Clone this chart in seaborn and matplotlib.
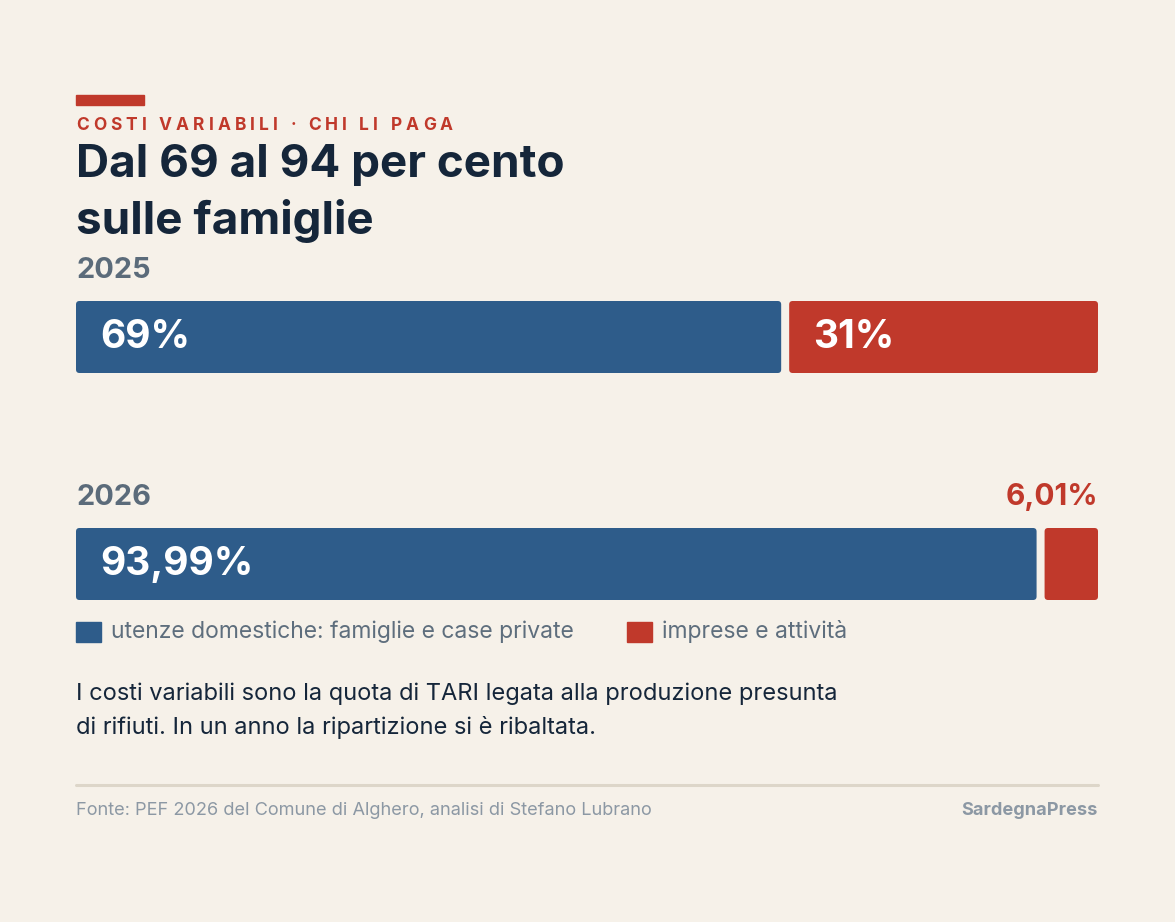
import numpy as np
import pandas as pd
import matplotlib
matplotlib.use('Agg')
import matplotlib.pyplot as plt
from matplotlib.patches import FancyBboxPatch, Rectangle
import seaborn as sns

# data
years = ['2025', '2026']
domestiche = [69.0, 93.99]
imprese = [31.0, 6.01]
labelsDom = ['69%', '93,99%']
labelsImp = ['31%', '6,01%']
legendLabels = ['utenze domestiche: famiglie e case private', 'imprese e attività']

# style
W, H = 1175, 922
BG = '#f6f1e9'
BLUE = '#2e5c8a'
RED = '#c0392b'
DARK = '#15263a'
GREY = '#5b6b7a'
LGREY = '#8c98a4'
FONT = 'Inter'

sns.set_theme(style='white')
plt.rcParams['font.family'] = [FONT, 'DejaVu Sans']

fig = plt.figure(figsize=(W / 100, H / 100), dpi=100)
fig.patch.set_facecolor(BG)

def fx(px):
	return px / W

def fy(py):
	return 1 - py / H

def txt(x, y, s, **kw):
	return fig.text(fx(x), fy(y), s, **kw)

# plot area: bars span x 76..1098, bar tops 301 (2025) and 528 (2026)
left, right = 76, 1098
barTop, barBottom = 301, 600
rowStep = 227.0
barH = 72.0 / rowStep
ax = fig.add_axes([fx(left), fy(barBottom), fx(right - left), (barBottom - barTop) / H])
ax.set_facecolor('none')

df = pd.DataFrame({'year': years, 'domestiche': domestiche, 'imprese': imprese})
sns.barplot(data=df, x='domestiche', y='year', color=BLUE, width=barH,
	saturation=1, orient='h', ax=ax)
gapPx = 8
gap = gapPx / (right - left) * 100
ax.barh(np.arange(len(years)), df['imprese'] - gap, left=df['domestiche'] + gap,
	height=barH, color=RED)
ax.set_xlim(0, 100)
ax.set_ylim(1 + barH / 2, -barH / 2)
ax.axis('off')

# round the bar corners
pxPerX = (right - left) / 100
pxPerY = rowStep
radius = 3.5
for p in list(ax.patches):
	x0, y0 = p.get_x(), p.get_y()
	w, h = p.get_width(), p.get_height()
	rp = FancyBboxPatch((x0, y0), w, h,
		boxstyle='round,pad=0,rounding_size=%f' % (radius / pxPerX),
		mutation_aspect=pxPerX / pxPerY,
		facecolor=p.get_facecolor(), edgecolor='none', linewidth=0)
	p.remove()
	ax.add_patch(rp)

# value labels
for i in range(len(years)):
	ax.text(24 / pxPerX, i, labelsDom[i], color='white', fontsize=28,
		fontweight='bold', va='center', ha='left')
ax.text(domestiche[0] + gap + 24 / pxPerX, 0, labelsImp[0], color='white',
	fontsize=28, fontweight='bold', va='center', ha='left')
txt(1098, 505, labelsImp[1], color=RED, fontsize=21.5, fontweight='bold',
	ha='right', va='baseline')

# year labels
txt(77, 278, years[0], color=GREY, fontsize=20.8, fontweight='bold', va='baseline')
txt(77, 505, years[1], color=GREY, fontsize=20.8, fontweight='bold', va='baseline')

# accent bar
fig.patches.append(Rectangle((fx(76), fy(105)), fx(68), 10 / H,
	transform=fig.transFigure, color=RED))

# kicker with letter spacing
kicker = 'COSTI VARIABILI · CHI LI PAGA'
renderer = fig.canvas.get_renderer()
kkw = dict(color=RED, fontsize=12.5, fontweight='bold', va='baseline')

def textWidth(s):
	t = txt(0, 0, s + 'X', **kkw)
	w1 = t.get_window_extent(renderer).width
	t.remove()
	t = txt(0, 0, 'X', **kkw)
	w2 = t.get_window_extent(renderer).width
	t.remove()
	return w1 - w2

natural = textWidth(kicker)
spacing = (453 - 76 - natural) / (len(kicker) - 1)
for i, ch in enumerate(kicker):
	if ch == ' ':
		continue
	txt(76 + textWidth(kicker[:i]) + i * spacing, 130, ch, **kkw)

# title
txt(76, 177, 'Dal 69 al 94 per cento', color=DARK, fontsize=33,
	fontweight='bold', va='baseline')
txt(76, 234, 'sulle famiglie', color=DARK, fontsize=33,
	fontweight='bold', va='baseline')

# legend
for xs, col, lab in [(76, BLUE, legendLabels[0]), (627, RED, legendLabels[1])]:
	fig.patches.append(Rectangle((fx(xs), fy(642)), fx(25), 20 / H,
		transform=fig.transFigure, color=col))
	txt(xs + 35, 638, lab, color='#5e6e7d', fontsize=16.5, va='baseline')

# body text
txt(76, 700, 'I costi variabili sono la quota di TARI legata alla produzione presunta',
	color=DARK, fontsize=17, va='baseline')
txt(76, 734, 'di rifiuti. In un anno la ripartizione si è ribaltata.',
	color=DARK, fontsize=17, va='baseline')

# rule and footer
fig.add_artist(plt.Line2D([fx(76), fx(1098)], [fy(784.5), fy(784.5)],
	transform=fig.transFigure, color='#ddd6c9', linewidth=2.2))
txt(76, 815, 'Fonte: PEF 2026 del Comune di Alghero, analisi di Stefano Lubrano',
	color=LGREY, fontsize=13.1, va='baseline')
txt(1098, 815, 'SardegnaPress', color=LGREY, fontsize=13.1, fontweight='bold',
	ha='right', va='baseline')

fig.savefig('out.png', dpi=100, facecolor=BG)
